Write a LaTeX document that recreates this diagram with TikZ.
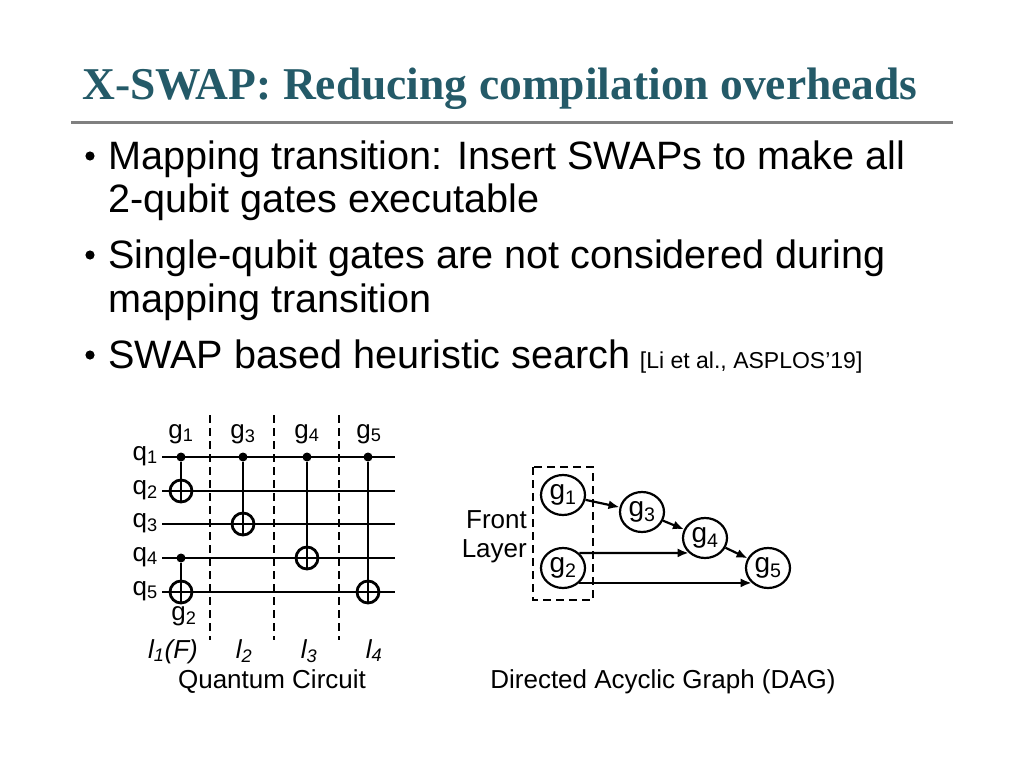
\documentclass[tikz,border=0pt]{standalone}
\usepackage{fontspec}
\setmainfont{Liberation Sans}
\newfontfamily\titlefont{Liberation Serif}
\usetikzlibrary{arrows.meta,shapes.geometric}
\definecolor{titleteal}{RGB}{36,90,104}
\definecolor{rulegray}{RGB}{128,128,128}

\begin{document}
\begin{tikzpicture}[x=1pt,y=-1pt,
    bodytext/.style={inner sep=0pt,font=\fontsize{39.6}{44}\selectfont},
    lbl/.style={inner sep=0pt,font=\fontsize{26}{30}\selectfont},
    wire/.style={line width=2.8pt},
    ctrl/.style={circle,fill,inner sep=0pt,minimum size=9pt},
    targ/.style={circle,draw,line width=2.8pt,inner sep=0pt,minimum size=22pt},
    layer/.style={line width=2.4pt,dash pattern=on 8pt off 5pt},
    gate/.style={ellipse,draw,line width=2.2pt,inner sep=0pt,minimum width=44pt,minimum height=40pt,font=\fontsize{28}{32}\selectfont},
    dep/.style={-{Latex[length=11pt,width=9pt]},line width=2.2pt}]
  \useasboundingbox (0,0) rectangle (1024,768);

  % title
  \node [anchor=base west,inner sep=0pt,text=titleteal,font=\titlefont\bfseries\fontsize{45.5}{50}\selectfont] (title) at (82,99) {X-SWAP: Reducing compilation overheads};
  \draw [rulegray,line width=3pt] (71,122) -- (953,122);

  % bullets
  \foreach \y in {156,255,355}
    \fill (90,\y) circle (4.6pt);
  \node [bodytext,anchor=base west] (b1) at (108,169) {Mapping transition: Insert SWAPs to make all};
  \node [bodytext,anchor=base west] (b2) at (108,212) {2-qubit gates executable};
  \node [bodytext,anchor=base west] (b3) at (108,268) {Single-qubit gates are not considered during};
  \node [bodytext,anchor=base west] (b4) at (108,312) {mapping transition};
  \node [bodytext,anchor=base west] (b5) at (108,368) {SWAP based heuristic search};
  \node [anchor=base west,inner sep=0pt,font=\fontsize{23}{27}\selectfont] (cite) at ([xshift=9pt]b5.base east) {[Li et al., ASPLOS'19]};

  % quantum circuit
  \foreach \i/\y in {1/457,2/491,3/524,4/558,5/592} {
    \node [lbl,anchor=base east] (q\i) at (158,\y+3) {q\textsubscript{\i}};
    \coordinate (w\i) at (162,\y);
    \coordinate (e\i) at (395,\y);
    \draw [wire] (w\i) -- (e\i);
  }
  \foreach \x in {210,274,339}
    \draw [layer] (\x,415) -- (\x,640);

  \node [ctrl] (c1) at (181,457) {};
  \node [targ] (t1) at (181,491) {};
  \node [ctrl] (c2) at (181,558) {};
  \node [targ] (t2) at (181,592) {};
  \node [ctrl] (c3) at (243,457) {};
  \node [targ] (t3) at (243,524) {};
  \node [ctrl] (c4) at (307,457) {};
  \node [targ] (t4) at (307,558) {};
  \node [ctrl] (c5) at (368,457) {};
  \node [targ] (t5) at (368,592) {};
  \foreach \i in {1,...,5}
    \draw [wire] (c\i) -- (t\i.south);

  \node [lbl,anchor=base] (n1) at (181,438) {g\textsubscript{1}};
  \node [lbl,anchor=base] (n3) at (243,438) {g\textsubscript{3}};
  \node [lbl,anchor=base] (n4) at (307,438) {g\textsubscript{4}};
  \node [lbl,anchor=base] (n5) at (369,438) {g\textsubscript{5}};
  \node [lbl,anchor=base] (n2) at (184,620) {g\textsubscript{2}};

  \node [lbl,anchor=base] (l1) at (173,658) {\itshape l\textsubscript{1}(F)};
  \node [lbl,anchor=base] (l2) at (244,658) {\itshape l\textsubscript{2}};
  \node [lbl,anchor=base] (l3) at (309,658) {\itshape l\textsubscript{3}};
  \node [lbl,anchor=base] (l4) at (374,658) {\itshape l\textsubscript{4}};
  \node [lbl,anchor=base] (qc) at (272,688) {Quantum Circuit};

  % DAG
  \draw [layer] (533,467) rectangle (593,600);
  \node [gate] (g1) at (563,495) {g\textsubscript{1}};
  \node [gate] (g2) at (563,568) {g\textsubscript{2}};
  \node [gate] (g3) at (642,512) {g\textsubscript{3}};
  \node [gate] (g4) at (705,538) {g\textsubscript{4}};
  \node [gate] (g5) at (768,568) {g\textsubscript{5}};

  \draw [dep] (g1) -- (g3);
  \draw [dep] (g3) -- (g4);
  \draw [dep] (g4) -- (g5);
  \draw [dep] (g2.north east) -- (g4.south west);
  \draw [dep] (g2.south east) -- (g5.south west);

  \node [lbl,anchor=base east] (front) at (527,528) {Front};
  \node [lbl,anchor=base east] (layer) at (527,557) {Layer};
  \node [lbl,anchor=base] (dag) at (663,688) {Directed Acyclic Graph (DAG)};
\end{tikzpicture}
\end{document}
